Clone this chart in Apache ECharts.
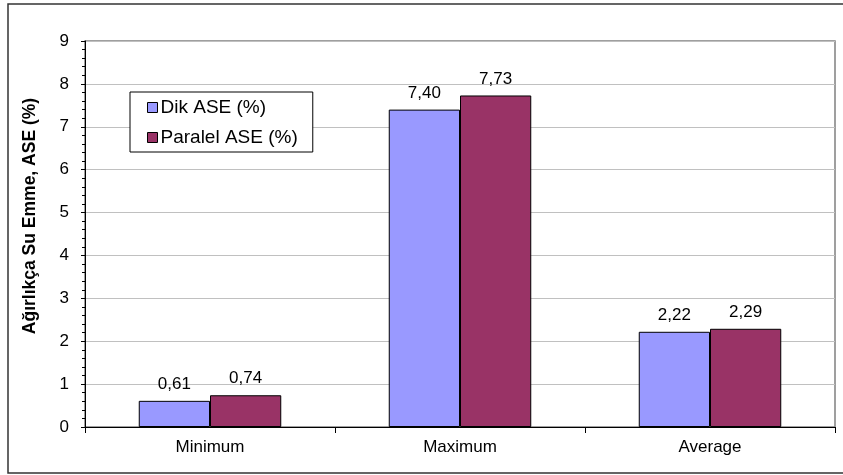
<!DOCTYPE html>
<html>
<head>
<meta charset="utf-8">
<script src="https://cdn.jsdelivr.net/npm/echarts@6/dist/echarts.min.js"></script>
<style>
html,body{margin:0;padding:0;background:#fff;}
#c{width:843px;height:475px;}
</style>
</head>
<body>
<div id="c"></div>
<script>
var categories = ['Minimum', 'Maximum', 'Average'];
var dikValues = [0.61, 7.40, 2.22];
var paralelValues = [0.74, 7.73, 2.29];
var seriesNames = ['Dik ASE (%)', 'Paralel ASE (%)'];
var yTitle = 'Ağırlıkça Su Emme, ASE (%)';

var FONT = 'Liberation Sans, Arial, sans-serif';
function fmt(p){ return p.value.toFixed(2).replace('.', ','); }

var chart = echarts.init(document.getElementById('c'), null, {renderer:'canvas'});
var labelCfg = {show:true, position:'top', distance:8, formatter:fmt,
  color:'#000', fontFamily:FONT, fontSize:17};
chart.setOption({
  animation:false,
  backgroundColor:'#fff',
  graphic:[{type:'rect', shape:{x:8, y:4, width:850, height:469},
    style:{fill:'none', stroke:'#333', lineWidth:1.5}, silent:true, z:-1}],
  grid:{left:85, top:41, right:8, bottom:48, show:true, borderColor:'#808080', borderWidth:1.5, backgroundColor:'transparent'},
  legend:{
    orient:'vertical', left:130, top:92,
    data:seriesNames,
    backgroundColor:'#fff',
    borderColor:'#000', borderWidth:1,
    padding:[6, 15, 5, 17],
    itemWidth:10, itemHeight:10, itemGap:11,
    icon:'rect',
    itemStyle:{borderColor:'#000', borderWidth:1},
    textStyle:{fontFamily:FONT, fontSize:19, lineHeight:19, color:'#000', padding:[0,0,0,-2]}
  },
  xAxis:{
    type:'category', data:categories,
    axisLine:{lineStyle:{color:'#000', width:1}},
    axisTick:{show:true, alignWithLabel:false, length:6, lineStyle:{color:'#000'}},
    axisLabel:{color:'#000', fontFamily:FONT, fontSize:17, margin:12},
    splitLine:{show:false}
  },
  yAxis:{
    type:'value', min:0, max:9, interval:1,
    name:yTitle, nameLocation:'middle', nameGap:46, nameRotate:90,
    nameTextStyle:{fontFamily:FONT, fontWeight:'bold', fontSize:17.5, color:'#000', padding:[0,0,0,36]},
    axisLine:{show:true, lineStyle:{color:'#000', width:1}},
    axisTick:{show:true, length:4, lineStyle:{color:'#000'}},
    minorTick:{show:true, splitNumber:5, length:3, lineStyle:{color:'#000'}},
    axisLabel:{color:'#000', fontFamily:FONT, fontSize:17, margin:16},
    splitLine:{show:true, lineStyle:{color:'#c0c0c0', width:1}}
  },
  series:[
    {name:seriesNames[0], type:'bar', data:dikValues, barGap:'0%', barCategoryGap:'43%',
     itemStyle:{color:'#9999FF', borderColor:'#000', borderWidth:1}, label:labelCfg},
    {name:seriesNames[1], type:'bar', data:paralelValues, barGap:'0%', barCategoryGap:'43%',
     itemStyle:{color:'#993366', borderColor:'#000', borderWidth:1}, label:labelCfg}
  ]
});
</script>
</body>
</html>
